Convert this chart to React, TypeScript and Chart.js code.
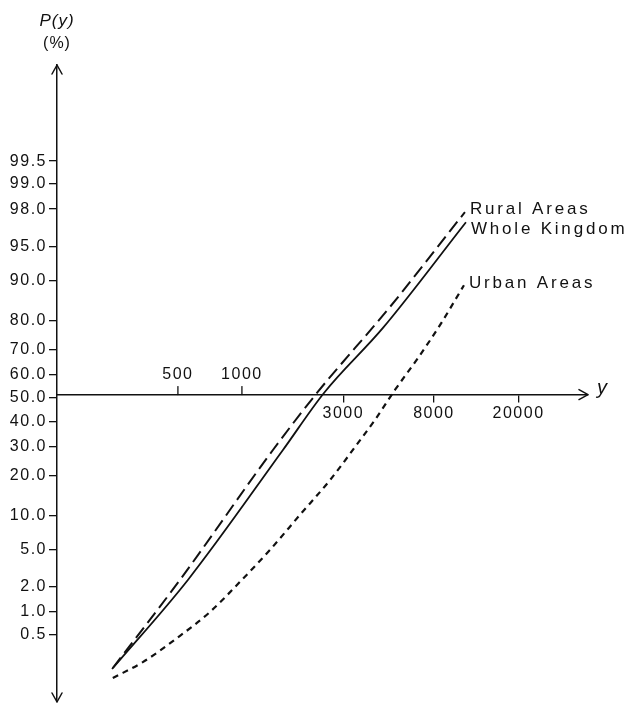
import React, { useEffect, useRef } from 'react';
import { Chart, registerables, LinearScale } from 'chart.js';

// ---- data (income y, cumulative percentage P(y)) ----
const ruralX = [247, 511, 1399, 2253, 4969, 11190];
const ruralP = [0.167, 2.4, 28.6, 52.2, 83.9, 97.84];

const wholeX = [245, 557, 1559, 2431, 4605, 11313];
const wholeP = [0.161, 2.4, 28.6, 52.2, 77.7, 97.2];

const urbanX = [247, 342, 495, 707, 978, 1354, 1874, 2594, 3401, 4223, 5244, 6726, 8538, 11072];
const urbanP = [0.117, 0.205, 0.454, 1.0, 2.28, 4.93, 10.2, 18.6, 29.7, 40.6, 53.5, 66.8, 78.6, 89.0];

const Y_TICKS = [0.5, 1, 2, 5, 10, 20, 30, 40, 50, 60, 70, 80, 90, 95, 98, 99, 99.5];
const X_TICKS_BELOW = [3000, 8000, 20000];
const X_TICKS_ABOVE = [500, 1000];
const Y_MIN = 0.0476;
const Y_MAX = 99.9853;
const X_MIN = 135;
const X_MAX = 42420;
const AXIS_CROSS_P = 51.5;

const SERIES_LABELS = ['Rural Areas', 'Whole Kingdom', 'Urban Areas'];
const LABEL_DY = [-3, 7, -2];

const INK = '#111';
const FAMILY = '"Liberation Sans", Arial, Helvetica, sans-serif';

// inverse standard normal CDF (Acklam)
function normInv(p: number): number {
  const a = [-3.969683028665376e1, 2.209460984245205e2, -2.759285104469687e2, 1.38357751867269e2, -3.066479806614716e1, 2.506628277459239];
  const b = [-5.447609879822406e1, 1.615858368580409e2, -1.556989798598866e2, 6.680131188771972e1, -1.328068155288572e1];
  const c = [-7.784894002430293e-3, -3.223964580411365e-1, -2.400758277161838, -2.549671348283281, 4.374664141464968, 2.938163982698783];
  const d = [7.784695709041462e-3, 3.224671290700398e-1, 2.445134137142996, 3.754408661907416];
  const pl = 0.02425;
  if (p <= 0) return -8;
  if (p >= 1) return 8;
  let q: number, r: number;
  if (p < pl) {
    q = Math.sqrt(-2 * Math.log(p));
    return (((((c[0] * q + c[1]) * q + c[2]) * q + c[3]) * q + c[4]) * q + c[5]) / ((((d[0] * q + d[1]) * q + d[2]) * q + d[3]) * q + 1);
  }
  if (p <= 1 - pl) {
    q = p - 0.5;
    r = q * q;
    return ((((((a[0] * r + a[1]) * r + a[2]) * r + a[3]) * r + a[4]) * r + a[5]) * q) / (((((b[0] * r + b[1]) * r + b[2]) * r + b[3]) * r + b[4]) * r + 1);
  }
  q = Math.sqrt(-2 * Math.log(1 - p));
  return -(((((c[0] * q + c[1]) * q + c[2]) * q + c[3]) * q + c[4]) * q + c[5]) / ((((d[0] * q + d[1]) * q + d[2]) * q + d[3]) * q + 1);
}

function normCdf(z: number): number {
  const t = 1 / (1 + 0.2316419 * Math.abs(z));
  const dd = 0.3989423 * Math.exp((-z * z) / 2);
  const pr = dd * t * (0.3193815 + t * (-0.3565638 + t * (1.781478 + t * (-1.821256 + t * 1.330274))));
  return z > 0 ? 1 - pr : pr;
}

// probability (normal-probit) scale in percent
class ProbitScale extends LinearScale {
  static id = 'probit';
  static defaults = {};
  determineDataLimits() {
    this.min = this.options.min;
    this.max = this.options.max;
  }
  buildTicks() {
    return Y_TICKS.map((v) => ({ value: v }));
  }
  configure() {
    super.configure();
    (this as any)._zs = normInv(this.min / 100);
    (this as any)._ze = normInv(this.max / 100);
  }
  getPixelForValue(value: number) {
    if (value === null || value === undefined || isNaN(value)) return NaN;
    const zs = (this as any)._zs, ze = (this as any)._ze;
    return this.getPixelForDecimal((normInv(value / 100) - zs) / (ze - zs));
  }
  getValueForPixel(pixel: number) {
    const zs = (this as any)._zs, ze = (this as any)._ze;
    const dec = this.getDecimalForPixel(pixel);
    return 100 * normCdf(zs + dec * (ze - zs));
  }
}

Chart.register(...registerables, ProbitScale as any);

const pts = (xs: number[], ps: number[]) => xs.map((x, i) => ({ x, y: ps[i] }));

const annot = {
  id: 'annot',
  beforeDraw(chart: any) {
    chart.ctx.letterSpacing = '1.5px';
  },
  afterDraw(chart: any) {
    const { ctx, chartArea: ca, scales } = chart;
    const xs = scales.x, ys = scales.y;
    const axY = ys.getPixelForValue(AXIS_CROSS_P);
    const axX = ca.left;
    ctx.save();
    ctx.setLineDash([]);
    ctx.strokeStyle = INK;
    ctx.fillStyle = INK;
    ctx.lineWidth = 1.5;
    ctx.lineCap = 'round';
    ctx.lineJoin = 'round';
    ctx.beginPath();
    ctx.moveTo(axX - 5, ca.top + 9); ctx.lineTo(axX, ca.top); ctx.lineTo(axX + 5, ca.top + 9);
    ctx.moveTo(axX - 5, ca.bottom - 9); ctx.lineTo(axX, ca.bottom); ctx.lineTo(axX + 5, ca.bottom - 9);
    ctx.moveTo(ca.right - 9, axY - 5); ctx.lineTo(ca.right, axY); ctx.lineTo(ca.right - 9, axY + 5);
    ctx.stroke();

    ctx.letterSpacing = '1.5px';
    ctx.font = `16px ${FAMILY}`;
    ctx.textAlign = 'center';
    ctx.textBaseline = 'middle';
    ctx.lineWidth = 1.3;
    X_TICKS_ABOVE.forEach((v) => {
      const px = xs.getPixelForValue(v);
      ctx.beginPath();
      ctx.moveTo(px, axY);
      ctx.lineTo(px, axY - 8);
      ctx.stroke();
      ctx.fillText(String(v), px, axY - 20);
    });

    ctx.letterSpacing = '1px';
    ctx.font = `italic 17px ${FAMILY}`;
    ctx.fillText('P(y)', axX, 21);
    ctx.font = `16px ${FAMILY}`;
    ctx.fillText('(%)', axX, 44);

    ctx.textAlign = 'left';
    ctx.textBaseline = 'alphabetic';
    ctx.font = `italic 20px ${FAMILY}`;
    ctx.fillText('y', ca.right + 9, axY - 1);

    ctx.letterSpacing = '2.8px';
    ctx.font = `17px ${FAMILY}`;
    ctx.textBaseline = 'middle';
    SERIES_LABELS.forEach((lab, i) => {
      const meta = chart.getDatasetMeta(i);
      const last = meta.data[meta.data.length - 1];
      ctx.fillText(lab, last.x + 5, last.y + LABEL_DY[i]);
    });
    ctx.restore();
  },
};

export default function App() {
  const ref = useRef<HTMLCanvasElement>(null);
  useEffect(() => {
    const canvas = ref.current!;
    const tickFont = { family: FAMILY, size: 16 };
    const chart = new Chart(canvas, {
      type: 'line',
      data: {
        datasets: [
          { label: SERIES_LABELS[0], data: pts(ruralX, ruralP), borderColor: INK, borderWidth: 2, borderDash: [13, 6], pointRadius: 0, fill: false, cubicInterpolationMode: 'monotone' },
          { label: SERIES_LABELS[1], data: pts(wholeX, wholeP), borderColor: INK, borderWidth: 1.8, pointRadius: 0, fill: false, cubicInterpolationMode: 'monotone' },
          { label: SERIES_LABELS[2], data: pts(urbanX, urbanP), borderColor: INK, borderWidth: 2.2, borderDash: [6, 5], pointRadius: 0, fill: false, cubicInterpolationMode: 'monotone' },
        ],
      } as any,
      options: {
        animation: false,
        responsive: false,
        devicePixelRatio: 1,
        layout: { padding: { left: 0, top: 65, right: 45, bottom: 4 } },
        plugins: { legend: { display: false }, tooltip: { enabled: false } },
        scales: {
          x: {
            type: 'logarithmic',
            position: { y: AXIS_CROSS_P },
            min: X_MIN,
            max: X_MAX,
            bounds: 'data',
            afterBuildTicks: (s: any) => { s.ticks = X_TICKS_BELOW.map((v) => ({ value: v })); },
            afterFit: (s: any) => { s.paddingLeft = 0; s.paddingRight = 0; s.paddingTop = 0; s.paddingBottom = 0; },
            ticks: { autoSkip: false, maxRotation: 0, callback: (v: any) => String(v), font: tickFont, color: INK, padding: 2 },
            grid: { drawOnChartArea: false, drawTicks: true, tickLength: 7, color: INK, lineWidth: 1.3 },
            border: { display: true, color: INK, width: 1.5 },
          },
          y: {
            type: 'probit',
            position: 'left',
            min: Y_MIN,
            max: Y_MAX,
            afterFit: (s: any) => { s.width = 57; s.paddingTop = 0; s.paddingBottom = 0; },
            ticks: { autoSkip: false, callback: (v: any) => Number(v).toFixed(1), font: tickFont, color: INK, padding: 2 },
            grid: { drawOnChartArea: false, drawTicks: true, tickLength: 8, color: INK, lineWidth: 1.3 },
            border: { display: true, color: INK, width: 1.5 },
          },
        } as any,
      },
      plugins: [annot],
    });
    return () => chart.destroy();
  }, []);
  return (
    <div style={{ position: 'fixed', left: 0, top: 0, width: 633, height: 706, background: '#fff' }}>
      <canvas ref={ref} width={633} height={706} style={{ display: 'block' }} />
    </div>
  );
}
